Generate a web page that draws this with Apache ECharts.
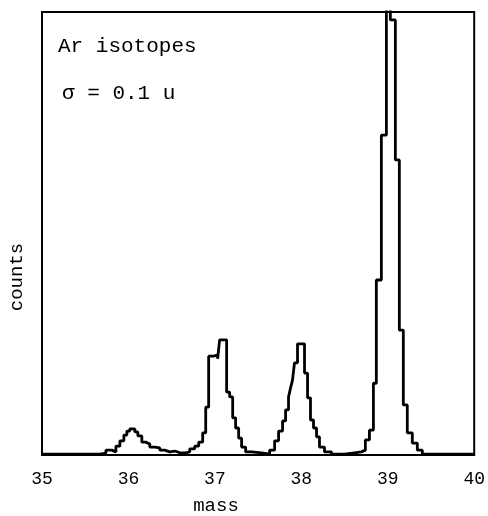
<!DOCTYPE html>
<html>
<head>
<meta charset="utf-8">
<script src="https://cdn.jsdelivr.net/npm/echarts@6/dist/echarts.min.js"></script>
<style>
  html, body { margin: 0; padding: 0; background: #fff; }
  #chart { width: 488px; height: 516px; }
</style>
</head>
<body>
<div id="chart"></div>
<script>
// left edge of every histogram bin (mass, u)
var massEdges = [
  35.000, 35.208, 35.670, 35.739, 35.808, 35.855, 35.901, 35.947, 35.982, 36.016,
  36.074, 36.109, 36.155, 36.201, 36.247, 36.305, 36.363, 36.420, 36.478, 36.536,
  36.594, 36.663, 36.709, 36.767, 36.813, 36.859, 36.894, 36.928, 36.986, 37.032,
  37.055, 37.136, 37.171, 37.206, 37.240, 37.275, 37.309, 37.356, 37.425, 37.540,
  37.633, 37.691, 37.737, 37.783, 37.818, 37.852, 37.875, 37.898, 37.921, 37.956,
  38.037, 38.072, 38.106, 38.141, 38.176, 38.210, 38.268, 38.349, 38.499, 38.614,
  38.695, 38.741, 38.788, 38.834, 38.868, 38.926, 38.984, 39.030, 39.088, 39.134,
  39.180, 39.226, 39.284, 39.342, 39.400, 39.596, 40.000
];
// counts in each bin (arbitrary units, top of frame = 1000; the 39 peak runs off scale)
var counts = [
  2, 2, 4, 11, 7, 20, 32, 45, 54, 59,
  52, 43, 29, 25, 18, 16, 11, 7, 9, 5,
  5, 7, 14, 20, 29, 50, 108, 223, 226, 217,
  260, 142, 131, 84, 61, 38, 18, 7, 5, 2,
  11, 32, 54, 77, 102, 131, 151, 169, 208, 251,
  185, 129, 79, 61, 41, 18, 7, 2, 5, 7,
  11, 34, 56, 162, 395, 722, 1200, 982, 666, 282,
  113, 50, 27, 11, 2, 2, 2
];
var massTicks = [35, 36, 37, 38, 39, 40];

var data = massEdges.map(function(m, i) { return [m, counts[i]]; });
var font = '"Liberation Mono", "DejaVu Sans Mono", monospace';

var chart = echarts.init(document.getElementById('chart'));
chart.setOption({
  animation: false,
  backgroundColor: '#fff',
  grid: {
    left: 42, right: 13, top: 12, bottom: 61,
    show: true, borderColor: '#000', borderWidth: 2
  },
  xAxis: {
    type: 'value',
    min: 35, max: 40, interval: 1,
    axisLine: { show: true, lineStyle: { color: '#000', width: 2 } },
    axisTick: { show: false },
    splitLine: { show: false },
    axisLabel: {
      margin: 15,
      color: '#000',
      fontFamily: font,
      fontSize: 18,
      formatter: function(v) { return massTicks.indexOf(v) >= 0 ? String(v) : ''; }
    }
  },
  yAxis: {
    type: 'value',
    min: 0, max: 1000,
    axisLine: { show: true, lineStyle: { color: '#000', width: 2 } },
    axisTick: { show: false },
    axisLabel: { show: false },
    splitLine: { show: false }
  },
  series: [{
    type: 'line',
    step: 'end',
    data: data,
    symbol: 'none',
    clip: true,
    lineStyle: { color: '#000', width: 2.8 }
  }],
  graphic: [
    { type: 'text', x: 58, y: 46,
      style: { text: 'Ar isotopes', font: '21px ' + font, fill: '#000', verticalAlign: 'middle' } },
    { type: 'text', x: 62, y: 93,
      style: { text: '\u03c3 = 0.1 u', font: '21px ' + font, fill: '#000', verticalAlign: 'middle' } },
    { type: 'text', x: 216, y: 506,
      style: { text: 'mass', font: '19px ' + font, fill: '#000', align: 'center', verticalAlign: 'middle' } },
    { type: 'text', x: 17, y: 277, rotation: Math.PI / 2,
      style: { text: 'counts', font: '19px ' + font, fill: '#000', align: 'center', verticalAlign: 'middle' } }
  ]
});
</script>
</body>
</html>
